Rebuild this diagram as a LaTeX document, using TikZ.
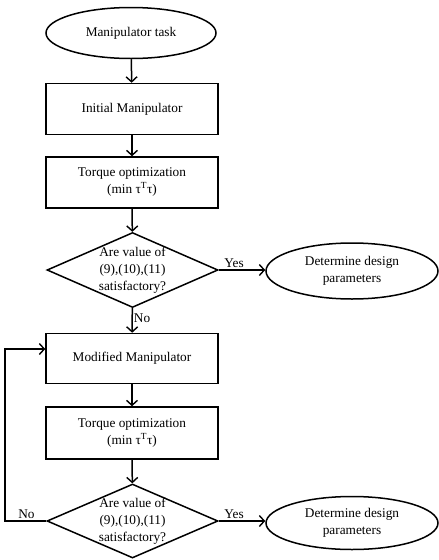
\documentclass[tikz,border=0pt]{standalone}
\usepackage{fontspec}
\setmainfont{Liberation Serif}
\usetikzlibrary{shapes.geometric,arrows.meta}
\begin{document}
\begin{tikzpicture}[x=1pt,y=-1pt,
  every node/.style={font=\fontsize{13.3}{17}\selectfont},
  line/.style={line width=1.5pt},
  arr/.style={line, -{Straight Barb[length=5pt,width=11pt,line width=1.4pt]}},
  boxnode/.style={draw,line width=1.5pt,minimum width=172pt,minimum height=51pt,align=center,inner sep=0pt},
  ellnode/.style={draw,ellipse,line width=1.5pt,align=center,inner sep=0pt},
  dianode/.style={draw,diamond,line width=1.5pt,inner sep=0pt,minimum width=171pt,minimum height=75pt},
  lbl/.style={align=center,inner sep=0pt}]
\useasboundingbox (0,0) rectangle (439,560);
\node[ellnode,minimum width=170pt,minimum height=51pt] (task) at (131,33) {Manipulator task};
\node[boxnode] (init) at (132,109) {Initial Manipulator};
\node[boxnode] (opt1) at (132,182.5) {Torque optimization\\(min τ\textsuperscript{T}τ)};
\node[dianode] (d1) at (132.5,270) {};
\node[lbl] at (d1) {Are value of\\(9),(10),(11)\\satisfactory?};
\node[ellnode,minimum width=172pt,minimum height=56pt] (e1) at (352,271) {Determine design\\parameters};
\node[boxnode,minimum height=50pt] (mod) at (132,358.5) {Modified Manipulator};
\node[boxnode,minimum height=52pt] (opt2) at (132,433) {Torque optimization\\(min τ\textsuperscript{T}τ)};
\node[dianode,minimum height=74pt] (d2) at (132.5,521) {};
\node[lbl] at (d2) {Are value of\\(9),(10),(11)\\satisfactory?};
\node[ellnode,minimum width=172pt,minimum height=53pt] (e2) at (352,523) {Determine design\\parameters};
\coordinate (fbA) at (5,521);
\coordinate (fbB) at (5,349);
\draw[arr] (task) -- (init);
\draw[arr] (init) -- (opt1);
\draw[arr] (opt1) -- (d1);
\draw[arr] (d1.east) -- (e1.west |- d1.east) node[pos=0.33,above=2pt,inner sep=0pt] {Yes};
\draw[arr] (d1) -- (mod) node[pos=0.4,right=1pt,inner sep=0pt] {No};
\draw[arr] (mod) -- (opt2);
\draw[arr] (opt2) -- (d2);
\draw[arr] (d2.east) -- (e2.west |- d2.east) node[pos=0.33,above=2pt,inner sep=0pt] {Yes};
\draw[arr] (d2.west) -- (fbA) node[pos=0.48,above=2pt,inner sep=0pt] {No} -- (fbB) -- (fbB -| mod.west);
\end{tikzpicture}
\end{document}
